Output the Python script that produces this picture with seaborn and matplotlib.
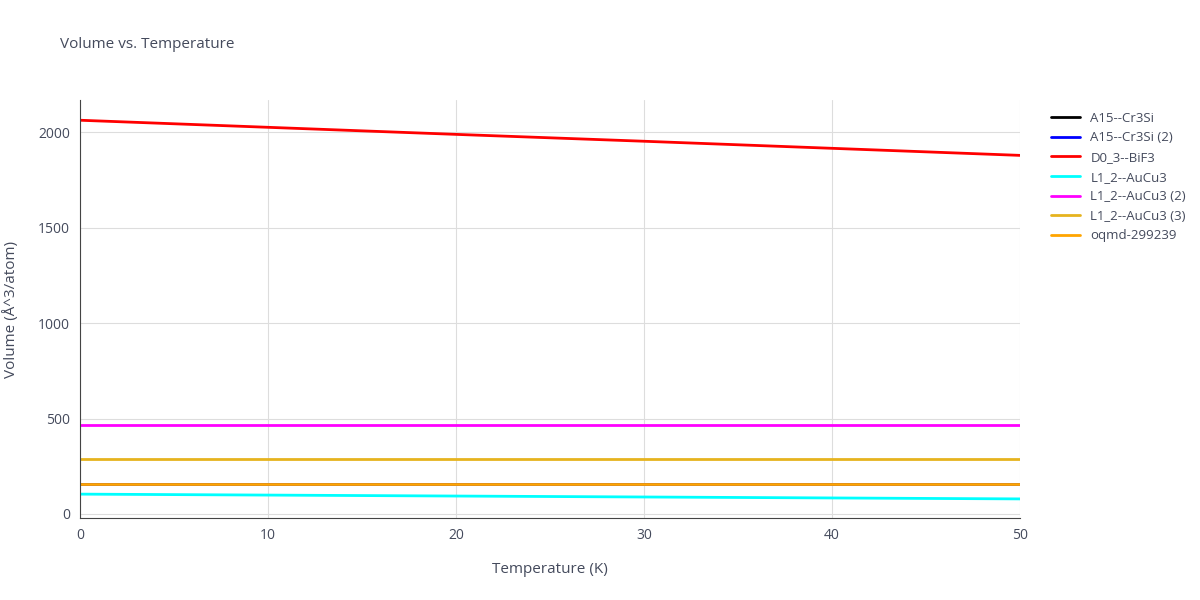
import numpy as np
import pandas as pd
import matplotlib
matplotlib.use('Agg')
import matplotlib.pyplot as plt
import seaborn as sns

temps = [0, 10, 20, 30, 40, 50]
names = ['A15--Cr3Si', 'A15--Cr3Si (2)', 'D0_3--BiF3', 'L1_2--AuCu3',
         'L1_2--AuCu3 (2)', 'L1_2--AuCu3 (3)', 'oqmd-299239']
colors = ['black', 'blue', 'red', 'cyan', 'magenta', '#e6b31e', 'orange']
a15 = [157, 157, 157, 157, 157, 157]
a15_2 = [157, 157, 157, 157, 157, 157]
bif3 = [2062, 2025, 1988, 1952, 1915, 1878]
aucu3 = [104, 99, 94, 89, 84, 79]
aucu3_2 = [465, 465, 465, 465, 465, 465]
aucu3_3 = [287, 287, 287, 287, 287, 287]
oqmd = [155, 155, 155, 155, 155, 155]
series = [a15, a15_2, bif3, aucu3, aucu3_2, aucu3_3, oqmd]

rows = []
for n, s in zip(names, series):
    for t, v in zip(temps, s):
        rows.append({'T': t, 'V': v, 'name': n})
df = pd.DataFrame(rows)

sns.set_style('whitegrid', {'grid.color': '#dddddd', 'axes.edgecolor': '#444444'})
plt.rcParams['font.family'] = ['Open Sans', 'DejaVu Sans']
fig = plt.figure(figsize=(12, 6), dpi=100)
ax = fig.add_axes([80/1200, 82/600, 940/1200, 418/600])
sns.lineplot(data=df, x='T', y='V', hue='name', palette=dict(zip(names, colors)),
             linewidth=2, ax=ax, legend=True)
ax.set_xlim(0, 50)
ax.set_ylim(-21, 2168)
ax.set_xticks([0, 10, 20, 30, 40, 50])
ax.set_yticks([0, 500, 1000, 1500, 2000])
ax.tick_params(colors='#444a5c', labelsize=10)
for s in ['top', 'right']:
    ax.spines[s].set_visible(False)
ax.set_xlabel('Temperature (K)', color='#444a5c', fontsize=11, labelpad=14)
ax.set_ylabel('Volume (Å^3/atom)', color='#444a5c', fontsize=11, labelpad=14)
ax.legend(loc='upper left', bbox_to_anchor=(1.02, 1.0), frameon=False, fontsize=9.5,
          labelcolor='#444a5c', handlelength=2.2)
fig.text(60/1200, 1 - 45/600, 'Volume vs. Temperature', fontsize=11, color='#444a5c', va='center')
fig.savefig('out.png')
